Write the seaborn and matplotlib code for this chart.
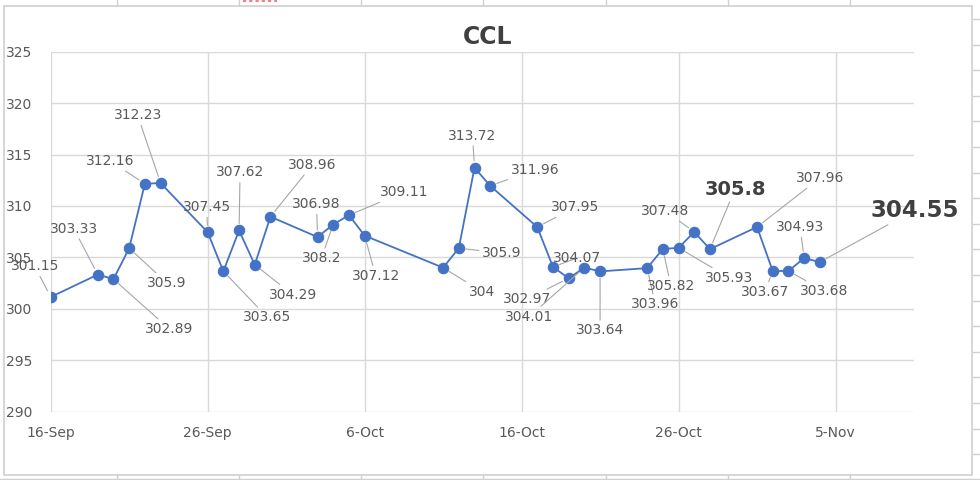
import numpy as np
import pandas as pd
import matplotlib
matplotlib.use("Agg")
import matplotlib.pyplot as plt
import matplotlib.dates as mdates
from matplotlib.lines import Line2D
from matplotlib.patches import Rectangle
import seaborn as sns

# ---------------- data ----------------
dates = ["2022-09-16", "2022-09-19", "2022-09-20", "2022-09-21", "2022-09-22",
         "2022-09-23", "2022-09-26", "2022-09-27", "2022-09-28", "2022-09-29",
         "2022-09-30", "2022-10-03", "2022-10-04", "2022-10-05", "2022-10-06",
         "2022-10-11", "2022-10-12", "2022-10-13", "2022-10-14", "2022-10-17",
         "2022-10-18", "2022-10-19", "2022-10-20", "2022-10-21", "2022-10-24",
         "2022-10-25", "2022-10-26", "2022-10-27", "2022-10-28", "2022-10-31",
         "2022-11-01", "2022-11-02", "2022-11-03", "2022-11-04"]
values = [301.15, 303.33, 302.89, 305.9, 312.16,
          312.23, 307.45, 303.65, 307.62, 304.29,
          308.96, 306.98, 308.2, 309.11, 307.12,
          304.0, 305.9, 313.72, 311.96, 307.95,
          304.07, 302.97, 304.01, 303.64, 303.96,
          305.82, 305.93, 307.48, 305.8, 307.96,
          303.67, 303.68, 304.93, 304.55]
point_labels = ["301.15", "303.33", "302.89", "305.9", "312.16",
                "312.23", "307.45", "303.65", "307.62", "304.29",
                "308.96", "306.98", "308.2", "309.11", "307.12",
                "304", "305.9", "313.72", "311.96", "307.95",
                "304.07", "302.97", "304.01", "303.64", "303.96",
                "305.82", "305.93", "307.48", "305.8", "307.96",
                "303.67", "303.68", "304.93", "304.55"]
x_ticks = ["2022-09-16", "2022-09-26", "2022-10-06", "2022-10-16",
           "2022-10-26", "2022-11-05"]
y_ticks = [290, 295, 300, 305, 310, 315, 320, 325]
title = "CCL"

# ---------------- layout (label offsets in pixels: dx, dy-up) ----------------
label_offsets = [(-16, 31), (-24, 46), (56, -50), (38, -35), (-35, 23),
                 (-23, 68), (-1, 25), (44, -46), (1, 58), (38, -30),
                 (42, 52), (-1, 33), (-12, -34), (55, 23), (11, -40),
                 (39, -24), (43, -5), (-2, 32), (45, 16), (38, 20),
                 (24, 9), (-42, -21), (-55, -49), (0, -59), (8, -36),
                 (8, -37), (51, -30), (-29, 21), (25, 60), (63, 49),
                 (-8, -21), (36, -20), (-4, 31), (95, 52)]
big_labels = {28: 14, 33: 16.5}

W, H = 980, 480
BLUE = "#4472C4"
GRID = "#D9D9D9"
TXT = "#595959"

sns.set_theme(style="white")
plt.rcParams["font.family"] = ["DejaVu Sans"]

fig = plt.figure(figsize=(W / 100, H / 100), dpi=100)
fig.patch.set_facecolor("white")

# spreadsheet background / chart frame
def px(x, y):
    return x / W, 1 - y / H

fig.add_artist(Rectangle(px(4, 474.5), (972 - 4) / W, (474.5 - 6) / H,
                         transform=fig.transFigure, fill=False,
                         edgecolor="#D0D0D0", lw=1.2))
for xc in [117, 239, 361, 483, 606, 728, 850]:
    fig.add_artist(Line2D([xc / W, xc / W], [1, 1 - 5 / H], transform=fig.transFigure,
                          color="#D0D0D0", lw=1))
    fig.add_artist(Line2D([xc / W, xc / W], [1 - 475 / H, 0], transform=fig.transFigure,
                          color="#D0D0D0", lw=1))
fig.add_artist(Line2D([0, 1], [1 - 479 / H, 1 - 479 / H], transform=fig.transFigure,
                      color="#D0D0D0", lw=1))
for yr in np.arange(19, 470, 25.6):
    fig.add_artist(Line2D([973 / W, 1], [1 - yr / H, 1 - yr / H], transform=fig.transFigure,
                          color="#D0D0D0", lw=1))
fig.add_artist(Line2D([243 / W, 277 / W], [1 - 0.8 / H, 1 - 0.8 / H], transform=fig.transFigure,
                      color="#F08080", lw=1.5, ls=(0, (1.5, 1.5))))

ax = fig.add_axes([50.7 / W, 1 - 411.7 / H, (914 - 50.7) / W, (411.7 - 51.7) / H])
ax.set_facecolor("white")

df = pd.DataFrame({"date": pd.to_datetime(dates), "value": values})
sns.lineplot(data=df, x="date", y="value", ax=ax, color=BLUE, lw=1.3,
             marker="o", markersize=7.5, markeredgecolor=BLUE,
             markerfacecolor=BLUE, markeredgewidth=0.8, zorder=3)

ax.set_xlim(pd.Timestamp("2022-09-16"), pd.Timestamp("2022-11-10"))
ax.set_ylim(y_ticks[0], y_ticks[-1])
ax.set_xticks(pd.to_datetime(x_ticks))
ax.xaxis.set_major_formatter(mdates.DateFormatter("%-d-%b"))
ax.set_yticks(y_ticks)
ax.grid(True, color=GRID, lw=1)
ax.set_axisbelow(True)
for s in ax.spines.values():
    s.set_visible(False)
ax.tick_params(axis="both", length=0, labelsize=10, labelcolor=TXT)
ax.tick_params(axis="y", pad=13)
ax.tick_params(axis="x", pad=10)
ax.set_xlabel("")
ax.set_ylabel("")

for i, (d, v, lab, (dx, dy)) in enumerate(zip(df["date"], values, point_labels, label_offsets)):
    size = big_labels.get(i, 10)
    weight = "bold" if i in big_labels else "normal"
    color = "#404040" if i in big_labels else TXT
    arrow = None
    if np.hypot(dx, dy) > 20:
        arrow = dict(arrowstyle="-", color="#A6A6A6", lw=0.8, shrinkA=0, shrinkB=5)
    ax.annotate(lab, xy=(d, v), xytext=(dx, dy), textcoords="offset pixels",
                ha="center", va="center", fontsize=size, fontweight=weight,
                color=color, arrowprops=arrow, annotation_clip=False, zorder=4)

fig.text(488 / W, 1 - 37 / H, title, ha="center", va="center", fontsize=17,
         fontweight="bold", color="#404040")

fig.savefig("out.png", dpi=100)
